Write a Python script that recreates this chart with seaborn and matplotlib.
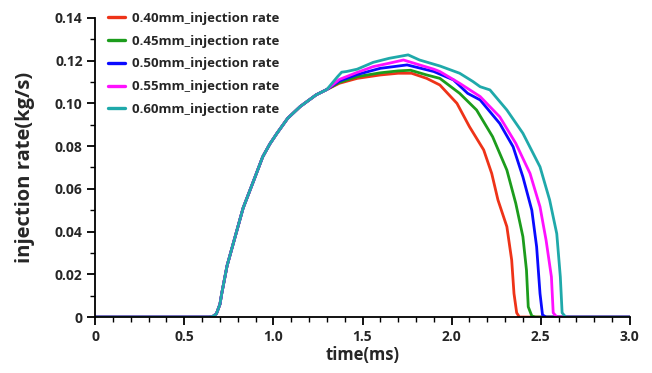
import numpy as np
import pandas as pd
import matplotlib
matplotlib.use("Agg")
import matplotlib.pyplot as plt
import seaborn as sns
from matplotlib.ticker import MultipleLocator

# ---- data ----
labels = ["0.40mm_injection rate", "0.45mm_injection rate", "0.50mm_injection rate",
          "0.55mm_injection rate", "0.60mm_injection rate"]
colors = ["#ee3318", "#1c9c1c", "#0a0aff", "#ff10ff", "#1fa9aa"]

# shared opening (rise) part of every curve
rise_t = [0.0, 0.64, 0.66, 0.68, 0.70, 0.71, 0.74, 0.78, 0.83, 0.89, 0.94, 0.98, 1.02, 1.08, 1.15, 1.24, 1.30]
rise_y = [0.0, 0.0, 0.0003, 0.0015, 0.006, 0.011, 0.024, 0.036, 0.051, 0.064, 0.075, 0.081, 0.086, 0.093, 0.0985, 0.104, 0.1065]

t_040 = [1.37, 1.47, 1.60, 1.70, 1.775, 1.86, 1.934, 2.03, 2.10, 2.18, 2.225, 2.26, 2.31, 2.337, 2.35, 2.365, 2.38, 3.0]
y_040 = [0.1094, 0.1117, 0.1133, 0.1141, 0.1141, 0.1117, 0.1086, 0.100, 0.0891, 0.0782, 0.0672, 0.0548, 0.0423, 0.0267, 0.011, 0.002, 0.0, 0.0]

t_045 = [1.37, 1.47, 1.60, 1.70, 1.77, 1.86, 1.934, 2.045, 2.14, 2.23, 2.31, 2.36, 2.40, 2.42, 2.43, 2.45, 2.47, 3.0]
y_045 = [0.1098, 0.1125, 0.1143, 0.1152, 0.1155, 0.1133, 0.1117, 0.1047, 0.0969, 0.0844, 0.0688, 0.0532, 0.0376, 0.022, 0.0048, 0.0005, 0.0, 0.0]

t_050 = [1.37, 1.47, 1.60, 1.75, 1.90, 2.01, 2.09, 2.16, 2.27, 2.345, 2.40, 2.45, 2.477, 2.496, 2.51, 2.53, 3.0]
y_050 = [0.1105, 0.1135, 0.1164, 0.1180, 0.1149, 0.1110, 0.1047, 0.1016, 0.0906, 0.0797, 0.0656, 0.050, 0.0329, 0.011, 0.001, 0.0, 0.0]

t_055 = [1.37, 1.47, 1.56, 1.65, 1.73, 1.82, 1.90, 1.934, 2.045, 2.16, 2.27, 2.36, 2.44, 2.496, 2.53, 2.56, 2.57, 2.59, 3.0]
y_055 = [0.1112, 0.1145, 0.1172, 0.1188, 0.1203, 0.1180, 0.1160, 0.1149, 0.1094, 0.1032, 0.0937, 0.0813, 0.0672, 0.0516, 0.036, 0.0188, 0.002, 0.0, 0.0]

t_060 = [1.36, 1.383, 1.41, 1.47, 1.56, 1.65, 1.756, 1.82, 1.934, 2.045, 2.12, 2.16, 2.215, 2.31, 2.40, 2.496, 2.55, 2.59, 2.61, 2.62, 2.64, 3.0]
y_060 = [0.1125, 0.1146, 0.1149, 0.1160, 0.1192, 0.1211, 0.1227, 0.1203, 0.1175, 0.1141, 0.1102, 0.1078, 0.1063, 0.0969, 0.086, 0.0703, 0.0548, 0.039, 0.0188, 0.002, 0.0, 0.0]

tails = [(t_040, y_040), (t_045, y_045), (t_050, y_050), (t_055, y_055), (t_060, y_060)]

frames = []
for lab, (tt, yy) in zip(labels, tails):
    frames.append(pd.DataFrame({"time": rise_t + tt, "rate": rise_y + yy, "series": lab}))
df = pd.concat(frames, ignore_index=True)

sns.set_style("ticks")
plt.rcParams["font.family"] = ["Open Sans", "DejaVu Sans"]

fig = plt.figure(figsize=(6.52, 3.73), dpi=100)
ax = fig.add_axes([0.146, 0.150, 0.820, 0.802])

sns.lineplot(data=df, x="time", y="rate", hue="series", hue_order=labels,
             palette=colors, linewidth=2.0, estimator=None, sort=False, ax=ax)

ax.set_xlim(0, 3.0)
ax.set_ylim(0, 0.14)
ax.set_xticks([0, 0.5, 1.0, 1.5, 2.0, 2.5, 3.0])
ax.set_xticklabels(["0", "0.5", "1.0", "1.5", "2.0", "2.5", "3.0"])
ax.set_yticks([0, 0.02, 0.04, 0.06, 0.08, 0.10, 0.12, 0.14])
ax.set_yticklabels(["0", "0.02", "0.04", "0.06", "0.08", "0.10", "0.12", "0.14"])
ax.xaxis.set_minor_locator(MultipleLocator(0.1))
ax.yaxis.set_minor_locator(MultipleLocator(0.01))
ax.tick_params(axis="both", which="major", direction="out", length=6, width=1.3,
               labelsize=10, color="black", pad=3)
ax.tick_params(axis="both", which="minor", direction="out", length=3.5, width=1.0, color="black")
for lbl in ax.get_xticklabels() + ax.get_yticklabels():
    lbl.set_fontweight("bold")

for s in ["top", "right"]:
    ax.spines[s].set_visible(False)
for s in ["left", "bottom"]:
    ax.spines[s].set_linewidth(1.3)
    ax.spines[s].set_color("black")

ax.set_xlabel("time(ms)", fontsize=12, fontweight="bold", labelpad=2)
ax.set_ylabel("injection rate(kg/s)", fontsize=14.5, fontweight="bold", labelpad=14)

leg = ax.legend(loc="upper left", bbox_to_anchor=(0.024, 1.02), frameon=False,
                borderpad=0, borderaxespad=0,
                handlelength=1.3, handletextpad=0.5, labelspacing=0.74,
                prop={"weight": "bold", "size": 9.5})
for h in leg.get_lines():
    h.set_linewidth(2.4)

fig.savefig("out.png", dpi=100)
